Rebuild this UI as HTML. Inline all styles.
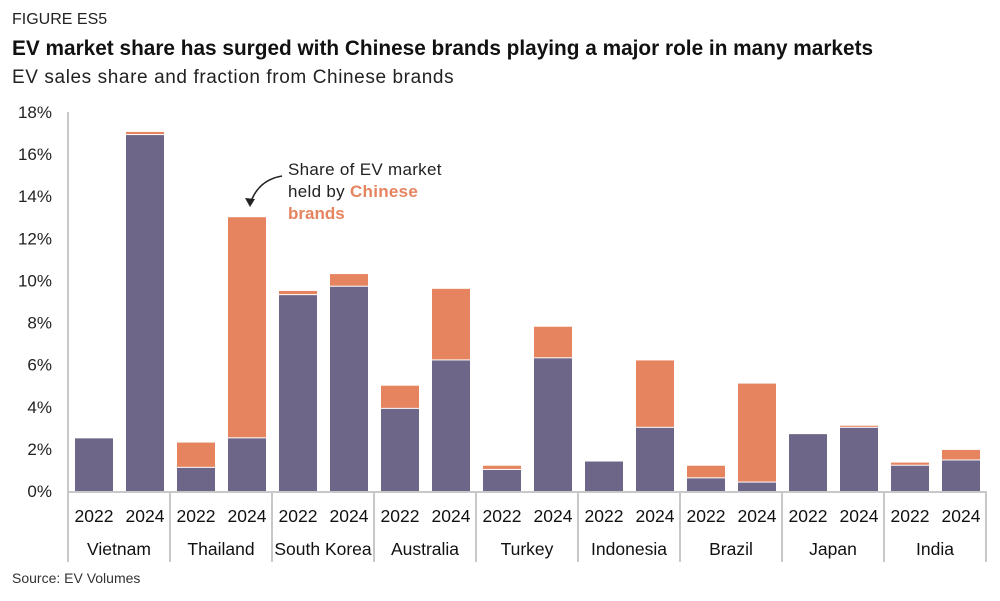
<!DOCTYPE html>
<html><head><meta charset="utf-8"><style>
body{margin:0;background:#fff;font-family:"Liberation Sans",sans-serif;}
</style></head><body>
<svg width="1000" height="596" xmlns="http://www.w3.org/2000/svg" font-family="Liberation Sans, sans-serif">
<text x="12" y="24" font-size="16" fill="#222">FIGURE ES5</text>
<text x="12" y="55" font-size="20.8" font-weight="bold" fill="#111">EV market share has surged with Chinese brands playing a major role in many markets</text>
<text x="12" y="83" font-size="19" letter-spacing="0.6" fill="#222">EV sales share and fraction from Chinese brands</text>
<g id="plot"></g>
<text x="288" y="175" font-size="17" letter-spacing="0.3" fill="#222">Share of EV market</text>
<text x="288" y="197" font-size="17" letter-spacing="0.3" fill="#222">held by <tspan fill="#e5845f" font-weight="bold">Chinese</tspan></text>
<text x="288" y="219" font-size="17" font-weight="bold" fill="#e5845f">brands</text>
<path d="M282,176 Q258,180 250,204" fill="none" stroke="#222" stroke-width="1.5"/>
<path d="M245,198 L250,207 L255,199 Z" fill="#222"/>
<text x="12" y="583" font-size="14" fill="#333">Source: EV Volumes</text>
</svg>
<script>
const countries=["Vietnam","Thailand","South Korea","Australia","Turkey","Indonesia","Brazil","Japan","India"];
const years=["2022","2024"];
const nonChinese=[[2.5,16.9],[1.1,2.5],[9.3,9.7],[3.9,6.2],[1.0,6.3],[1.4,3.0],[0.6,0.4],[2.7,3.0],[1.2,1.45]];
const chinese=[[0,0.15],[1.2,10.5],[0.2,0.6],[1.1,3.4],[0.2,1.5],[0,3.2],[0.6,4.7],[0,0.1],[0.15,0.5]];
const yTicks=[0,2,4,6,8,10,12,14,16,18];
const NS="http://www.w3.org/2000/svg";
const g=document.getElementById("plot");
const y0=491,pxPer=21.06,xStart=68,gw=102;
const y=v=>y0-v*pxPer;
function el(t,a){const e=document.createElementNS(NS,t);for(const k in a)e.setAttribute(k,a[k]);g.appendChild(e);return e;}
yTicks.forEach(t=>{const e=el("text",{x:52,y:y(t)+6,"font-size":17,fill:"#222","text-anchor":"end"});e.textContent=t+"%";

});
countries.forEach((c,i)=>{
 const gx=xStart+i*gw;
 years.forEach((yr,j)=>{
  const bx=gx+7+j*51,bw=38;
  const a=nonChinese[i][j],b=chinese[i][j];
  const r1=el("rect",{x:bx,y:y(a),width:bw,height:a*pxPer,fill:"#6e6688"});
  
  
  if(b>0){const r2=el("rect",{x:bx,y:y(a+b),width:bw,height:Math.max(b*pxPer-1,0.5),fill:"#e5845f"});
  
  }
  const t=el("text",{x:bx+bw/2,y:522,"font-size":17.5,fill:"#111","text-anchor":"middle"});t.textContent=yr;
  
  
 });
 const ct=el("text",{x:gx+gw/2,y:555,"font-size":17.5,fill:"#111","text-anchor":"middle"});ct.textContent=c;
 
 
 const l=el("line",{x1:gx+gw,y1:491,x2:gx+gw,y2:562,stroke:"#c8c8c8","stroke-width":2});
 
 
});
const ax=el("line",{x1:68,y1:112,x2:68,y2:562,stroke:"#c8c8c8","stroke-width":2});


const xa=el("line",{x1:68,y1:492,x2:68+9*gw,y2:492,stroke:"#c8c8c8","stroke-width":2});


</script>
</body></html>
